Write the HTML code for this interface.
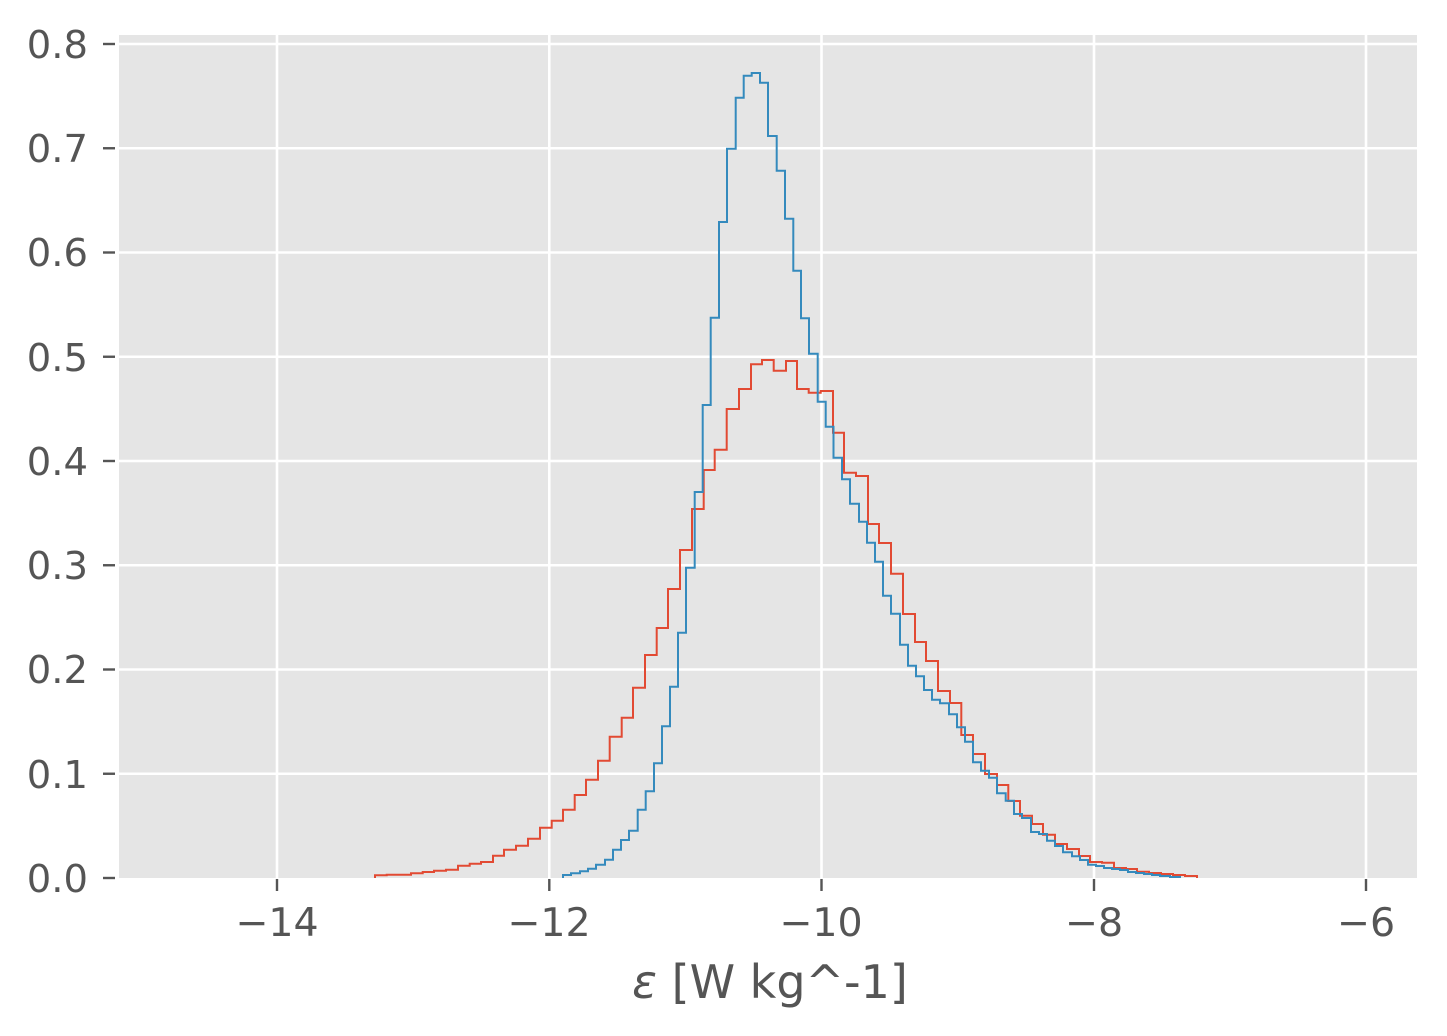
<!DOCTYPE html>
<html><head><meta charset="utf-8"><style>html,body{margin:0;padding:0;background:#fff}svg{display:block}text{font-family:"DejaVu Sans","Liberation Sans",sans-serif;fill:#555}</style></head><body>
<svg width="1447" height="1036" viewBox="0 0 1447 1036" xmlns="http://www.w3.org/2000/svg">
<rect x="119" y="35" width="1298" height="843" fill="#E5E5E5"/>
<g stroke="#fff" stroke-width="2.6">
<line x1="277" y1="35" x2="277" y2="878"/><line x1="549.3" y1="35" x2="549.3" y2="878"/><line x1="821.5" y1="35" x2="821.5" y2="878"/><line x1="1094" y1="35" x2="1094" y2="878"/><line x1="1366" y1="35" x2="1366" y2="878"/>
<line x1="119" y1="773.75" x2="1417" y2="773.75"/><line x1="119" y1="669.5" x2="1417" y2="669.5"/><line x1="119" y1="565.25" x2="1417" y2="565.25"/><line x1="119" y1="461" x2="1417" y2="461"/><line x1="119" y1="356.75" x2="1417" y2="356.75"/><line x1="119" y1="252.5" x2="1417" y2="252.5"/><line x1="119" y1="148.25" x2="1417" y2="148.25"/><line x1="119" y1="44" x2="1417" y2="44"/>
</g>
<g stroke="#555" stroke-width="2.4">
<line x1="277" y1="879" x2="277" y2="891"/><line x1="549.3" y1="879" x2="549.3" y2="891"/><line x1="821.5" y1="879" x2="821.5" y2="891"/><line x1="1094" y1="879" x2="1094" y2="891"/><line x1="1366" y1="879" x2="1366" y2="891"/>
<line x1="103" y1="878" x2="115" y2="878"/><line x1="103" y1="773.75" x2="115" y2="773.75"/><line x1="103" y1="669.5" x2="115" y2="669.5"/><line x1="103" y1="565.25" x2="115" y2="565.25"/><line x1="103" y1="461" x2="115" y2="461"/><line x1="103" y1="356.75" x2="115" y2="356.75"/><line x1="103" y1="252.5" x2="115" y2="252.5"/><line x1="103" y1="148.25" x2="115" y2="148.25"/><line x1="103" y1="44" x2="115" y2="44"/>
</g>
<g font-size="38.5" text-anchor="end">
<text x="88" y="892">0.0</text><text x="88" y="788">0.1</text><text x="88" y="683">0.2</text><text x="88" y="579">0.3</text><text x="88" y="475">0.4</text><text x="88" y="371">0.5</text><text x="88" y="266">0.6</text><text x="88" y="162">0.7</text><text x="88" y="58">0.8</text>
</g>
<g font-size="39.5" text-anchor="middle">
<text x="277" y="936">−14</text><text x="549" y="936">−12</text><text x="821" y="936">−10</text><text x="1094" y="936">−8</text><text x="1366" y="936">−6</text>
</g>
<text x="770" y="998" font-size="46" text-anchor="middle"><tspan font-style="italic">ε</tspan> [W kg^-1]</text>
<path fill="none" stroke="#E24A33" stroke-width="2" d="M375 878 V875.3 H386.7 V874.7 H411 V873.3 H422.7 V872 H434 V870.7 H446 V869.7 H458 V865.7 H469.7 V863.7 H481 V862 H493 V855.7 H504 V849.7 H516 V845.7 H528 V838.7 H540 V827.7 H551.7 V820.7 H563 V809.7 H574.7 V795 H586 V779.7 H598 V760.7 H609.7 V736.7 H621.7 V717.7 H633 V687.7 H645 V655 H656.7 V628 H668 V589 H680 V550 H692 V509 H703.7 V470 H714.7 V449.7 H726.7 V409 H739 V389 H751 V364.3 H762 V360 H773.7 V370.7 H786 V361 H797 V389 H808.7 V392.7 H820.7 V391 H833 V432.7 H844 V472.7 H856 V476 H868 V524 H879 V543 H891 V573.7 H903 V614 H915 V642 H926 V661 H938 V691 H950 V703 H961.3 V735 H973 V754 H985 V774 H997 V785 H1008.3 V801 H1020 V815.7 H1032 V824 H1043 V834.7 H1055 V844 H1067 V849 H1079 V856 H1090 V862 H1102 V862.7 H1114 V868 H1126 V869 H1137 V871.7 H1149 V873 H1161 V874 H1173 V875 H1185 V876 H1197 V878"/>
<path fill="none" stroke="#348ABD" stroke-width="2" d="M563 878 V875 H571 V873.3 H580 V871.3 H588 V868.7 H596 V864.7 H605 V859.7 H613 V849.7 H621 V840 H629 V830.7 H637.7 V809.7 H645.7 V791.3 H654 V763.3 H662 V726.3 H670 V686.7 H678 V632.7 H686 V567.7 H694.7 V492 H702.7 V405 H710.7 V317.7 H719 V222 H727 V148.7 H735.7 V97.7 H743.7 V75.7 H751.7 V73 H760 V82.7 H768 V136 H776.7 V170.7 H785 V218.7 H793.3 V270.7 H801 V318.3 H809 V353.7 H817.7 V401.7 H825.7 V426.7 H833.5 V457.7 H842 V479.3 H850 V503.7 H859 V521.7 H867 V542.7 H875 V561.7 H883 V595.7 H891 V613.7 H900 V644.7 H908 V665.7 H916 V676.3 H924 V690 H932 V699.7 H940 V703.3 H949 V714.3 H957 V727.3 H965 V741.7 H973 V762.3 H981 V770.7 H989 V777.7 H997 V793.3 H1005.7 V800.7 H1014 V814 H1022 V818 H1031 V832 H1039 V834 H1047 V840.7 H1055 V846 H1063 V852.3 H1072 V856.3 H1080 V860 H1088 V864.7 H1096 V866 H1104 V868 H1112 V869 H1120 V870 H1128 V872 H1136 V873 H1144 V874 H1152 V875 H1160 V876 H1170 V877 H1180 V878"/>
</svg>
</body></html>
